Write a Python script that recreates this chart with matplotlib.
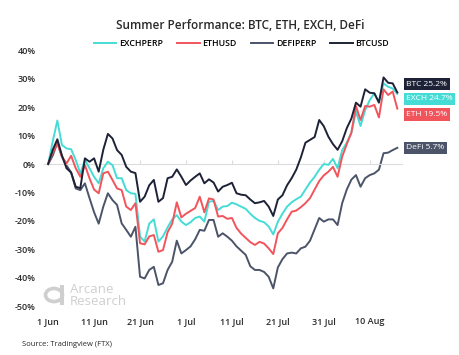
import matplotlib
matplotlib.use("Agg")
import matplotlib.pyplot as plt
import matplotlib.transforms as mtransforms
from matplotlib.patches import Circle, Rectangle
import numpy as np

plt.rcParams['font.family'] = ['Open Sans', 'DejaVu Sans']

# daily % performance since 1 Jun
btc = [0, 5, 8.7, 3, -1.5, -3, -8, -8.5, 2, 0.8, 2, -2.7, 5, 10.6, 9, 4.9, 3.2, -1, -2.7, -3.2,
       -13.3, -11.5, -7.5, -5.6, -13.3, -12, -5, -4.5, -1.9, -4.5, -7.4, -5.8, -4.5, -3.3, -6.8, -5.4,
       -6.5, -9.7, -8, -7.4, -6.6, -10.3, -10.8, -11, -12.5, -13.8, -13.5, -13, -15, -18.3, -12.5,
       -11, -7.5, -5, -2, 2.3, 7.5, 8.5, 9.5, 15.5, 13.3, 9.6, 7, 5, 8, 12.6, 16, 21.6, 20.2, 26.3,
       25.1, 24.9, 21.6, 30.5, 28.6, 28.4, 25.2]
eth = [0, 4, 7.3, 2.6, 0.2, 2.9, -1.5, -4.5, -0.4, -5, -9, -10.3, -3.3, -2.7, -5.6, -8.6, -9.2, -15,
       -16.2, -13.8, -27.9, -28.3, -25.5, -25, -30.9, -30.3, -24, -21, -13.5, -18.8, -17.5, -16.5,
       -15.5, -11.5, -17, -12.1, -12.5, -18.5, -18.3, -19.3, -19, -22.5, -24.5, -26, -27.5, -28.5,
       -27.4, -28, -29.7, -31.7, -24.4, -22.5, -19.5, -16.8, -16.4, -15.2, -13.8, -12, -9, -6, -4,
       -2.7, -1, -4.5, 2.6, 7, 11, 20.4, 15.5, 20.4, 20.2, 20.8, 16.4, 26.3, 24.3, 25.5, 19.5]
exch = [0, 8, 15.3, 6.7, 5.5, 5.2, 1.4, -3.3, 1.4, -1.5, -4.5, -6.8, -1.5, 0.8, -0.4, -5, -5, -9.2,
        -10.3, -10.5, -25.6, -27.3, -21, -19.5, -27.3, -25.5, -22.3, -19.5, -18, -20.3, -21.5, -20.5,
        -19, -18.5, -20.3, -13.3, -13, -16.2, -15, -14.8, -13.6, -14.2, -15, -15.8, -17.5, -19, -20,
        -20.5, -22, -24.8, -20.3, -17.5, -15, -13.5, -12.4, -11.5, -9, -6.5, -4.5, -2, 0, -0.3, 1.8,
        -1.5, 4.9, 7.5, 11, 18.4, 13.4, 19, 22.5, 24.9, 21.9, 28.4, 27.2, 26.6, 24.7]
defi = [0, 3, 7.5, 2.6, -0.5, -3, -8.6, -9.2, -6.8, -12, -17, -21, -15, -10.3, -12.7, -14.4, -20.9,
        -23.2, -25.6, -22.1, -39.7, -40.3, -37.3, -36.2, -42.6, -42, -37.3, -34.4, -27, -31.5, -30.3,
        -29, -26.5, -23.2, -23.5, -19.7, -19.7, -25.6, -24.4, -25.6, -27, -29, -30.5, -32, -36, -37.3,
        -37.3, -38, -39.7, -43.8, -36.4, -33.5, -31.5, -31.2, -31.5, -29.7, -29.1, -27, -23, -19,
        -20.3, -19.5, -19.5, -21.5, -13.8, -9, -5.5, -3.9, -8, -5, -3.9, -3.3, -2, 3.8, 4, 4.9, 5.7]

tick_days = [0, 10, 20, 30, 40, 50, 60, 70]
tick_labels = ['1 Jun', '11 Jun', '21 Jun', '1 Jul', '11 Jul', '21 Jul', '31 Jul', '10 Aug']
y_ticks = [40, 30, 20, 10, 0, -10, -20, -30, -40, -50]

c_exch = '#45dcd6'
c_eth = '#f2545b'
c_defi = '#4b5468'
c_btc = '#1d2236'
txt = '#2a2a2a'

days = np.arange(len(btc))

fig = plt.figure(figsize=(4.6, 3.55), dpi=100)
ax = fig.add_axes([0.0957, 0.130, 0.778, 0.744])

ax.plot(days, exch, color=c_exch, lw=1.4, label='EXCHPERP', zorder=3)
ax.plot(days, eth, color=c_eth, lw=1.4, label='ETHUSD', zorder=3)
ax.plot(days, defi, color=c_defi, lw=1.4, label='DEFIPERP', zorder=2)
ax.plot(days, btc, color=c_btc, lw=1.4, label='BTCUSD', zorder=4)

ax.set_xlim(-0.9, 77)
ax.set_ylim(-51, 42)

for s in ['top', 'right', 'left']:
    ax.spines[s].set_visible(False)
ax.spines['bottom'].set_position(('data', 0))
ax.spines['bottom'].set_color('#dcdcdc')
ax.spines['bottom'].set_linewidth(0.8)
ax.set_xticks(tick_days)
ax.tick_params(axis='x', direction='in', length=3, color='#dcdcdc', labelbottom=False)
ax.set_yticks(y_ticks)
ax.set_yticklabels([f'{v}%' for v in y_ticks])
ax.tick_params(axis='y', length=0, pad=6, labelsize=6.5, labelcolor=txt)
for lab in ax.get_yticklabels():
    lab.set_fontweight('semibold')

sec = ax.secondary_xaxis('bottom')
sec.set_xticks(tick_days)
sec.set_xticklabels(tick_labels)
sec.tick_params(length=0, pad=6, labelsize=6.5, labelcolor=txt)
sec.spines['bottom'].set_visible(False)
for lab in sec.get_xticklabels():
    lab.set_fontweight('semibold')

fig.text(0.522, 0.928, 'Summer Performance: BTC, ETH, EXCH, DeFi', ha='center', va='center',
         fontsize=8.5, fontweight='semibold', color=txt)
fig.legend(loc='center', bbox_to_anchor=(0.525, 0.878), ncol=4, frameon=False,
           handlelength=2.6, handletextpad=0.3, columnspacing=1.6,
           prop={'weight': 'semibold', 'size': 6.3})

# end-value tags
trans = mtransforms.blended_transform_factory(ax.transAxes, ax.transData)
tags = [('BTC', btc, c_btc, 28.1), ('EXCH', exch, c_exch, 23.0),
        ('ETH', eth, c_eth, 17.4), ('DeFi', defi, c_defi, 5.7)]
for name, ser, col, ypos in tags:
    ax.text(1.012, ypos, f'{name} {ser[-1]:.1f}%', transform=trans, ha='left', va='center',
            fontsize=6, color='white', clip_on=False,
            bbox=dict(boxstyle='square,pad=0.32', fc=col, ec='none'))

# watermark
wm = '#cfcfcf'
fig.patches.append(Circle((54 / 460, 1 - 295 / 355), 8.5 / 460, transform=fig.transFigure,
                          fill=False, ec=wm, lw=2.6))
fig.patches.append(Rectangle((60.5 / 460, 1 - 305 / 355), 3.5 / 460, 20 / 355,
                             transform=fig.transFigure, fc=wm, ec='none'))
fig.text(70 / 460, 1 - 295.5 / 355, 'Arcane\nResearch', fontsize=9.5, color=wm, va='center',
         ha='left', linespacing=0.9)

fig.text(22 / 460, 1 - 345 / 355, 'Source: Tradingview (FTX)', fontsize=5.5, color=txt,
         va='center', ha='left')

fig.savefig('out.png', dpi=100)
